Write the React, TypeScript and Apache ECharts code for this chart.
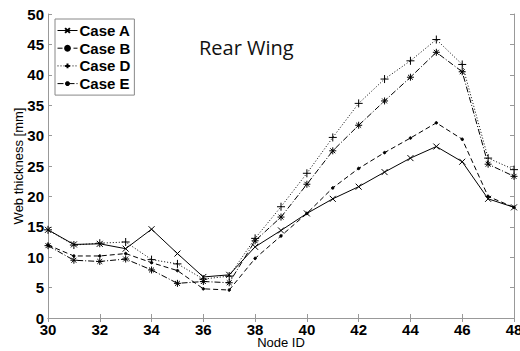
import React, { useEffect, useRef } from "react";
import * as echarts from "echarts";

const nodeIds = [30, 31, 32, 33, 34, 35, 36, 37, 38, 39, 40, 41, 42, 43, 44, 45, 46, 47, 48];
const caseA = [14.5, 12.1, 12.2, 11.4, 14.6, 10.6, 6.75, 7.1, 11.7, 14.4, 17.2, 19.6, 21.6, 24.0, 26.3, 28.2, 25.7, 19.6, 18.2];
const caseB = [12.0, 10.2, 10.2, 10.6, 9.1, 7.8, 4.8, 4.6, 9.8, 13.5, 17.2, 21.4, 24.6, 27.2, 29.6, 32.1, 29.4, 20.0, 18.2];
const caseD = [14.5, 12.0, 12.3, 12.5, 9.6, 8.9, 6.4, 6.9, 13.1, 18.3, 23.8, 29.7, 35.3, 39.3, 42.3, 45.8, 41.7, 26.3, 24.4];
const caseE = [11.9, 9.5, 9.3, 9.7, 7.9, 5.7, 6.0, 5.8, 12.7, 16.6, 22.0, 27.5, 31.7, 35.7, 39.6, 43.7, 40.5, 25.3, 23.3];
const xTicks = { min: 30, max: 48, interval: 2 };
const yTicks = { min: 0, max: 50, interval: 5 };

const X_PATH = "path://M0,0 L10,10 M10,0 L0,10";
const PLUS_PATH = "path://M5,0 L5,10 M0,5 L10,5";
const STAR_PATH = "path://M5,0 L5,10 M0,5 L10,5 M1.5,1.5 L8.5,8.5 M8.5,1.5 L1.5,8.5";

export default function App() {
  const ref = useRef<HTMLDivElement>(null);
  useEffect(() => {
    if (!ref.current) return;
    const chart = echarts.init(ref.current, null, { renderer: "svg" });
    const mk = (name: string, data: number[], dash: any, symbol: string, size: number) => ({
      name,
      type: "line",
      data: nodeIds.map((x, i) => [x, data[i]]),
      symbol,
      symbolSize: size,
      showSymbol: true,
      lineStyle: { color: "#000", width: 1, type: dash },
      itemStyle: { color: "#000", borderColor: "#000", borderWidth: 1 },
      z: 3,
    });
    const axisCommonX = {
      type: "value",
      min: xTicks.min,
      max: xTicks.max,
      interval: xTicks.interval,
      splitLine: { show: false },
      axisLine: { show: true, lineStyle: { color: "#999", width: 1 } },
      axisTick: { show: true, inside: true, length: 4, lineStyle: { color: "#999" } },
    };
    const axisCommonY = {
      type: "value",
      min: yTicks.min,
      max: yTicks.max,
      interval: yTicks.interval,
      splitLine: { show: false },
      axisLine: { show: true, lineStyle: { color: "#999", width: 1 } },
      axisTick: { show: true, inside: true, length: 4, lineStyle: { color: "#999" } },
    };
    chart.setOption({
      animation: false,
      backgroundColor: "#fff",
      grid: { left: 48, right: 6, top: 14, bottom: 33, containLabel: false, outerBoundsMode: "none" },
      title: {
        text: "Rear Wing",
        left: 194,
        top: 32,
        textStyle: { fontFamily: "Open Sans", fontWeight: "normal", fontSize: 20, color: "#111" },
      },
      legend: {
        left: 55,
        top: 19,
        orient: "vertical",
        itemWidth: 20,
        itemHeight: 6,
        itemGap: 2.7,
        padding: [4, 4, 4, 2],
        borderColor: "#888",
        borderWidth: 1,
        backgroundColor: "#fff",
        lineStyle: { width: 1 },
        textStyle: { fontFamily: "Liberation Sans", fontWeight: "bold", fontSize: 15, lineHeight: 13, color: "#000", padding: [0, 0, 0, -3] },
        data: ["Case A", "Case B", "Case D", "Case E"],
      },
      xAxis: [
        {
          ...axisCommonX,
          position: "bottom",
          name: "Node ID",
          nameLocation: "middle",
          nameGap: 18,
          nameMoveOverlap: false,
          nameTextStyle: { fontFamily: "Liberation Sans", fontSize: 13, lineHeight: 12, color: "#000" },
          axisLabel: { fontFamily: "Liberation Sans", fontWeight: "bold", fontSize: 15, lineHeight: 12, color: "#000", margin: 5 },
        },
        { ...axisCommonX, position: "top", axisLabel: { show: false } },
      ],
      yAxis: [
        {
          ...axisCommonY,
          position: "left",
          name: "Web thickness [mm]",
          nameLocation: "middle",
          nameGap: 23,
          nameMoveOverlap: false,
          nameTextStyle: { fontFamily: "Liberation Sans", fontSize: 13, color: "#000" },
          axisLabel: { fontFamily: "Liberation Sans", fontWeight: "bold", fontSize: 15, color: "#000", margin: 4 },
        },
        { ...axisCommonY, position: "right", axisLabel: { show: false } },
      ],
      series: [
        mk("Case A", caseA, "solid", X_PATH, 6),
        mk("Case B", caseB, [5, 3], "circle", 2.5),
        mk("Case D", caseD, [1, 2], PLUS_PATH, 8),
        mk("Case E", caseE, [6, 2, 1, 2], STAR_PATH, 7),
      ],
    });
    return () => chart.dispose();
  }, []);
  return <div ref={ref} style={{ width: 520, height: 351, position: "absolute", left: 0, top: 0 }} />;
}
